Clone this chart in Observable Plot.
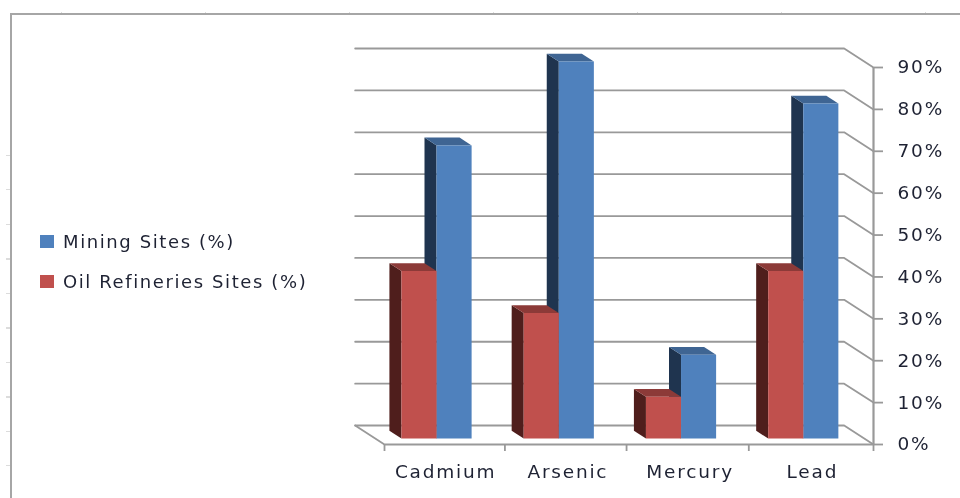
<!DOCTYPE html>
<html>
<head>
<meta charset="utf-8">
<script src="https://cdn.jsdelivr.net/npm/d3@7"></script>
<script src="https://cdn.jsdelivr.net/npm/@observablehq/plot@0.6"></script>
<style>
  html, body { margin: 0; padding: 0; background: #fff; overflow: hidden; }
  #page { position: relative; width: 960px; height: 498px; font-family: "DejaVu Sans", sans-serif; }
  #frame { position: absolute; left: 10px; top: 13px; right: 0; bottom: 0; border-left: 2px solid #a6a6a6; border-top: 2px solid #a6a6a6; }
  #rulerLeft { position: absolute; left: 6px; top: 155px; width: 4px; bottom: 0; background: repeating-linear-gradient(to bottom, #dcdcdc 0 1px, transparent 1px 34.5px); }
  #rulerTop { position: absolute; left: 61px; top: 12px; height: 2px; right: 0; background: repeating-linear-gradient(to right, #dcdcdc 0 1px, transparent 1px 144px); }
  #chart svg { display: block; filter: blur(0.55px); }
  #legend { position: absolute; left: 40px; top: 221px; color: #1e2233; font-size: 18px; letter-spacing: 1.6px; filter: blur(0.35px); }
  .item { display: flex; align-items: center; height: 40.5px; white-space: nowrap; }
  .swatch { width: 14px; height: 13px; margin-right: 9px; flex: none; }
</style>
</head>
<body>
<div id="page">
  <div id="rulerLeft"></div>
  <div id="rulerTop"></div>
  <div id="frame"></div>
  <div id="chart"></div>
  <div id="legend"></div>
</div>
<script>
const categories = ["Cadmium", "Arsenic", "Mercury", "Lead"];
const mining = [70, 90, 20, 80];
const refineries = [40, 30, 10, 40];
const yTicks = [0, 10, 20, 30, 40, 50, 60, 70, 80, 90];
const xTicks = [0, 0.985, 1.98, 2.98, 4];
const seriesNames = ["Mining Sites (%)", "Oil Refineries Sites (%)"];

// oblique projection expressed in data units
const depthX = 0.24, depthY = 4.53;
const project = (x, v, depth) => ({x: x - depth * depthX, y: v + depth * depthY});
const nearDepth = 0.31, farDepth = 0.72, barWidth = 0.287;

function faces(values, start) {
  const front = [], side = [], top = [];
  values.forEach((v, i) => {
    const x0 = i + start, x1 = x0 + barWidth;
    const poly = (target, pts) => pts.forEach(([x, val, d]) => target.push({id: i, ...project(x, val, d)}));
    poly(front, [[x0, 0, nearDepth], [x1, 0, nearDepth], [x1, v, nearDepth], [x0, v, nearDepth]]);
    poly(side, [[x0, 0, nearDepth], [x0, v, nearDepth], [x0, v, farDepth], [x0, 0, farDepth]]);
    poly(top, [[x0, v, nearDepth], [x1, v, nearDepth], [x1, v, farDepth], [x0, v, farDepth]]);
  });
  return {front, side, top};
}
const polygon = (data, fill) => Plot.line(data, {x: "x", y: "y", z: "id", fill, stroke: "none"});

const blue = faces(mining, 0.5);
const red = faces(refineries, 0.5 - barWidth);

const wall = yTicks.flatMap(v => [
  {id: v, ...project(0, v, 1)},
  {id: v, ...project(4, v, 1)},
  {id: v, ...project(4, v, 0)}
]);
const floorEdge = [project(0, 0, 1), project(0, 0, 0), project(4, 0, 0)];
const grey = "#999999";

const chart = Plot.plot({
  width: 960, height: 498,
  marginLeft: 384, marginRight: 87, marginTop: 67, marginBottom: 54,
  x: {domain: [0, 4], axis: null},
  y: {domain: [0, 90], axis: null},
  style: {background: "transparent", fontFamily: "'DejaVu Sans', sans-serif", fontSize: "18.5px", letterSpacing: "1.8px", color: "#1e2233"},
  marks: [
    Plot.line(wall, {x: "x", y: "y", z: "id", stroke: grey, strokeWidth: 1.8}),
    Plot.line(floorEdge, {x: "x", y: "y", stroke: grey, strokeWidth: 1.8}),
    Plot.ruleX([4], {y1: 0, y2: 90, stroke: grey, strokeWidth: 2.2}),
    Plot.axisY({anchor: "right", ticks: yTicks, tickFormat: d => d + "%", tickSize: 9, tickPadding: 15, stroke: grey, strokeWidth: 1.8, strokeOpacity: 1, label: null}),
    Plot.axisX({anchor: "bottom", ticks: xTicks, tickFormat: () => "", tickSize: 7, stroke: grey, strokeWidth: 1.8, strokeOpacity: 1, label: null}),
    Plot.axisX({anchor: "bottom", ticks: categories.map((c, i) => i + 0.5), tickFormat: d => categories[d - 0.5], tickSize: 0, tickPadding: 20, label: null}),
    polygon(blue.side, "#1f344f"),
    polygon(blue.top, "#3f6593"),
    polygon(blue.front, "#4f81bd"),
    polygon(red.side, "#4f1e1c"),
    polygon(red.top, "#8c3a38"),
    polygon(red.front, "#c0504d")
  ]
});
document.getElementById("chart").append(chart);

const swatches = ["#4f81bd", "#c0504d"];
const legend = document.getElementById("legend");
seriesNames.forEach((name, i) => {
  const item = document.createElement("div");
  item.className = "item";
  const sw = document.createElement("span");
  sw.className = "swatch";
  sw.style.background = swatches[i];
  const label = document.createElement("span");
  label.textContent = name;
  item.append(sw, label);
  legend.append(item);
});
</script>
</body>
</html>
